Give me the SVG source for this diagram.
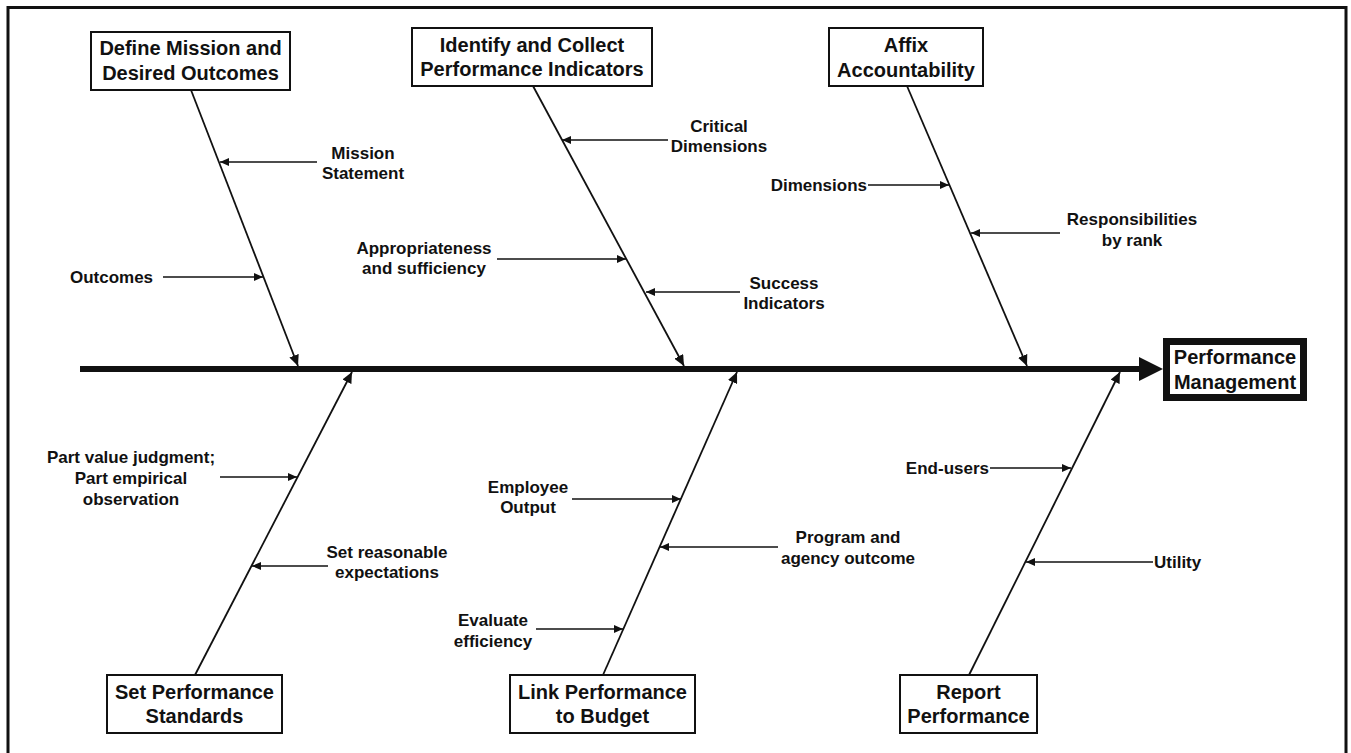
<svg xmlns="http://www.w3.org/2000/svg" width="1351" height="753" viewBox="0 0 1351 753">
<defs>
<style>
.box{fill:#fff;stroke:#111;stroke-width:2}
.t{font-family:"Liberation Sans",Arial,Helvetica,sans-serif;font-weight:bold;font-size:20px;fill:#111;text-anchor:middle}
.l{font-family:"Liberation Sans",Arial,Helvetica,sans-serif;font-weight:bold;font-size:17px;fill:#111;text-anchor:middle}
.bone{stroke:#111;stroke-width:1.8;fill:none;marker-end:url(#big)}
.rib{stroke:#111;stroke-width:1.5;fill:none;marker-end:url(#small)}
</style>
<marker id="small" markerUnits="userSpaceOnUse" markerWidth="10" markerHeight="8" refX="9" refY="4" orient="auto">
<path d="M0,0 L9,4 L0,8 z" fill="#111"/>
</marker>
<marker id="big" markerUnits="userSpaceOnUse" markerWidth="12" markerHeight="10" refX="11" refY="5" orient="auto">
<path d="M0,0 L11,5 L0,10 z" fill="#111"/>
</marker>
</defs>
<rect x="0" y="0" width="1351" height="753" fill="#fff"/>
<rect x="8" y="7.5" width="1338" height="800" fill="none" stroke="#111" stroke-width="3"/>

<g id="connectors">
<line x1="80" y1="369" x2="1142" y2="369" stroke="#111" stroke-width="6"/>
<polygon points="1139,357 1163,369 1139,381" fill="#111"/>
<line class="bone" x1="191" y1="90" x2="298" y2="366"/>
<line class="bone" x1="533" y1="86" x2="684" y2="366"/>
<line class="bone" x1="907" y1="86" x2="1027" y2="366"/>
<line class="bone" x1="195" y1="675" x2="352" y2="372"/>
<line class="bone" x1="603" y1="675" x2="737" y2="372"/>
<line class="bone" x1="969" y1="675" x2="1120" y2="372"/>
<line class="rib" x1="317" y1="162" x2="220" y2="162"/>
<line class="rib" x1="163" y1="277" x2="263" y2="277"/>
<line class="rib" x1="668" y1="140" x2="562" y2="140"/>
<line class="rib" x1="497" y1="259" x2="626" y2="259"/>
<line class="rib" x1="740" y1="292" x2="646" y2="292"/>
<line class="rib" x1="868" y1="185" x2="949" y2="185"/>
<line class="rib" x1="1060" y1="233" x2="971" y2="233"/>
<line class="rib" x1="220" y1="477" x2="297" y2="477"/>
<line class="rib" x1="328" y1="566" x2="252" y2="566"/>
<line class="rib" x1="572" y1="499" x2="681" y2="499"/>
<line class="rib" x1="778" y1="547" x2="660" y2="547"/>
<line class="rib" x1="536" y1="629" x2="623" y2="629"/>
<line class="rib" x1="990" y1="468" x2="1071" y2="468"/>
<line class="rib" x1="1153" y1="562" x2="1026" y2="562"/>
</g>

<g id="define-mission">
<rect class="box" x="91" y="32" width="199" height="58"/>
<text class="t" x="190.5" y="55">Define Mission and</text>
<text class="t" x="190.5" y="80">Desired Outcomes</text>
</g>
<g id="identify-collect">
<rect class="box" x="412" y="28" width="240" height="58"/>
<text class="t" x="532" y="52">Identify and Collect</text>
<text class="t" x="532" y="76">Performance Indicators</text>
</g>
<g id="affix">
<rect class="box" x="829" y="28" width="154" height="58"/>
<text class="t" x="906" y="52">Affix</text>
<text class="t" x="906" y="77">Accountability</text>
</g>
<g id="performance-management">
<rect x="1166.5" y="341.5" width="137" height="56" fill="#fff" stroke="#111" stroke-width="7"/>
<text class="t" x="1235" y="364">Performance</text>
<text class="t" x="1235" y="389">Management</text>
</g>
<g id="set-standards">
<rect class="box" x="107" y="675" width="175" height="58"/>
<text class="t" x="194.5" y="699">Set Performance</text>
<text class="t" x="194.5" y="723">Standards</text>
</g>
<g id="link-budget">
<rect class="box" x="510" y="675" width="185" height="58"/>
<text class="t" x="602.5" y="699">Link Performance</text>
<text class="t" x="602.5" y="723">to Budget</text>
</g>
<g id="report">
<rect class="box" x="900" y="675" width="137" height="58"/>
<text class="t" x="968.5" y="699">Report</text>
<text class="t" x="968.5" y="723">Performance</text>
</g>

<g id="labels">
<text class="l" x="363" y="159">Mission</text>
<text class="l" x="363" y="179">Statement</text>
<text class="l" x="111.5" y="283">Outcomes</text>
<text class="l" x="719" y="132">Critical</text>
<text class="l" x="719" y="152">Dimensions</text>
<text class="l" x="424" y="254">Appropriateness</text>
<text class="l" x="424" y="274">and sufficiency</text>
<text class="l" x="784" y="289">Success</text>
<text class="l" x="784" y="309">Indicators</text>
<text class="l" x="867" y="191" style="text-anchor:end">Dimensions</text>
<text class="l" x="1132" y="225">Responsibilities</text>
<text class="l" x="1132" y="246">by rank</text>
<text class="l" x="131" y="463">Part value judgment;</text>
<text class="l" x="131" y="484">Part empirical</text>
<text class="l" x="131" y="505">observation</text>
<text class="l" x="387" y="558">Set reasonable</text>
<text class="l" x="387" y="578">expectations</text>
<text class="l" x="528" y="493">Employee</text>
<text class="l" x="528" y="513">Output</text>
<text class="l" x="848" y="543">Program and</text>
<text class="l" x="848" y="564">agency outcome</text>
<text class="l" x="493" y="626">Evaluate</text>
<text class="l" x="493" y="647">efficiency</text>
<text class="l" x="989" y="474" style="text-anchor:end">End-users</text>
<text class="l" x="1154" y="568" style="text-anchor:start">Utility</text>
</g>
</svg>
